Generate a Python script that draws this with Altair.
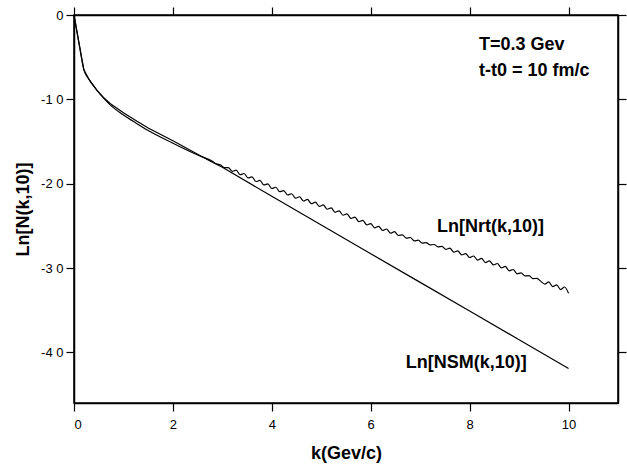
import altair as alt
import pandas as pd

FONT = "Liberation Sans"

# Ln[NSM(k,10)] : thermal (non-relaxed) spectrum
nsm_k = [0.0, 0.1, 0.2, 0.3, 0.46, 0.6, 0.73, 1.0, 1.25, 1.5, 2.0, 2.75, 3.0,
         4.0, 5.0, 6.0, 7.0, 8.0, 9.0, 10.0]
nsm_y = [0.0, -3.3, -6.5, -7.6, -8.9, -9.8, -10.5, -11.6, -12.5, -13.4, -14.9,
         -17.3, -18.05, -21.5, -24.9, -28.3, -31.7, -35.1, -38.5, -41.9]

# Ln[Nrt(k,10)] : relaxation-time spectrum (oscillating tail)
nrt_k = [0.0, 0.1, 0.2, 0.3, 0.46, 0.6, 0.73, 1.0, 1.25, 1.5, 2.0, 2.5,
         2.80, 2.88, 2.96, 3.04, 3.12, 3.20, 3.28, 3.36, 3.44, 3.52,
         3.60, 3.68, 3.76, 3.84, 3.92, 4.00, 4.08, 4.16, 4.24, 4.32,
         4.40, 4.48, 4.56, 4.64, 4.72, 4.80, 4.88, 4.96, 5.04, 5.12,
         5.20, 5.28, 5.36, 5.44, 5.52, 5.60, 5.68, 5.76, 5.84, 5.92,
         6.00, 6.08, 6.16, 6.24, 6.32, 6.40, 6.48, 6.56, 6.64, 6.72,
         6.80, 6.88, 6.96, 7.04, 7.12, 7.20, 7.28, 7.36, 7.44, 7.52,
         7.60, 7.68, 7.76, 7.84, 7.92, 8.00, 8.08, 8.16, 8.24, 8.32,
         8.40, 8.48, 8.56, 8.64, 8.72, 8.80, 8.88, 8.96, 9.04, 9.12,
         9.20, 9.28, 9.36, 9.44, 9.52, 9.60, 9.68, 9.76, 9.84, 9.92,
         10.00]
nrt_y = [0.0, -3.3, -6.5, -7.6, -8.9, -9.85, -10.65, -11.85, -12.8, -13.7, -15.2, -16.6,
         -17.35, -17.65, -17.75, -18.10, -18.09, -18.53, -18.40, -18.93, -18.79, -19.32,
         -19.19, -19.74, -19.61, -20.15, -20.02, -20.57, -20.42, -20.95, -20.81, -21.34,
         -21.19, -21.72, -21.55, -22.05, -21.87, -22.37, -22.19, -22.69, -22.52, -23.03,
         -22.87, -23.39, -23.22, -23.74, -23.58, -24.11, -23.96, -24.49, -24.35, -24.88,
         -24.73, -25.23, -25.05, -25.55, -25.37, -25.87, -25.69, -26.14, -26.06, -26.46,
         -26.38, -26.78, -26.70, -27.04, -26.99, -27.26, -27.21, -27.48, -27.44, -27.79,
         -27.65, -28.11, -27.97, -28.43, -28.29, -28.75, -28.57, -29.06, -28.86, -29.35,
         -29.15, -29.63, -29.46, -29.98, -29.81, -30.33, -30.17, -30.68, -30.58, -30.94,
         -30.90, -31.26, -31.22, -31.58, -31.90, -31.65, -32.20, -32.00, -32.55, -32.25,
         -33.00]

# annotations (data coordinates)
note_text = ["Ln[Nrt(k,10)]", "Ln[NSM(k,10)]", "T=0.3 Gev", "t-t0 = 10 fm/c"]
note_k = [7.34, 6.71, 8.19, 8.19]
note_y = [-25.1, -41.2, -3.5, -6.6]

nsm = pd.DataFrame({"k": nsm_k, "v": nsm_y})
nrt = pd.DataFrame({"k": nrt_k, "v": nrt_y})
notes = pd.DataFrame({"k": note_k, "v": note_y, "t": note_text})

xs = alt.Scale(domain=[0, 11], nice=False, zero=False)
ys = alt.Scale(domain=[-46, 0], nice=False, zero=False)

common = dict(domainColor="black", domainWidth=1.5, tickColor="black",
              tickWidth=1.2, tickSize=8, grid=False, labelFont=FONT,
              labelFontSize=13, labelColor="black", titleFont=FONT,
              titleFontSize=18, titleFontWeight="bold", titleColor="black")
plain = {k: v for k, v in common.items() if not k.startswith("title")}

x_bottom = alt.Axis(orient="bottom", values=[0, 2, 4, 6, 8, 10], labelPadding=7,
                    title="k(Gev/c)", titlePadding=13, **common)
y_left = alt.Axis(orient="left", values=[0, -10, -20, -30, -40], labelPadding=3,
                  labelExpr="datum.value == 0 ? '0' : '-' + (-datum.value / 10) + ' 0'",
                  title="Ln[N(k,10)]", titlePadding=8, **common)
x_top = alt.Axis(orient="top", values=[0, 2, 4, 6, 8, 10], labels=False, title=None, **plain)
y_right = alt.Axis(orient="right", values=[0, -10, -20, -30, -40], labels=False, title=None, **plain)

nsm_line = alt.Chart(nsm).mark_line(color="black", strokeWidth=1.2).encode(
    x=alt.X("k:Q", scale=xs, axis=x_bottom),
    y=alt.Y("v:Q", scale=ys, axis=y_left),
    order="k:Q",
)

nrt_line = alt.Chart(nrt).mark_line(color="black", strokeWidth=1.2,
                                    interpolate="monotone").encode(
    x=alt.X("k:Q", scale=xs, axis=x_top),
    y=alt.Y("v:Q", scale=ys, axis=y_right),
    order="k:Q",
)

labels = alt.Chart(notes).mark_text(
    align="left", baseline="middle", font=FONT, fontSize=18,
    fontWeight="bold", color="black"
).encode(
    x=alt.X("k:Q", scale=xs, axis=None),
    y=alt.Y("v:Q", scale=ys, axis=None),
    text="t:N",
)

chart = (
    alt.layer(nsm_line, nrt_line, labels)
    .resolve_axis(x="independent", y="independent")
    .properties(
        width=544, height=388,
        autosize=alt.AutoSizeParams(type="none"),
        padding={"left": 74, "top": 15, "right": 9, "bottom": 61},
        background="white",
    )
    .configure_view(stroke="black", strokeWidth=1.5)
)

chart.save("out.html", embed_options={"renderer": "svg", "actions": False})
